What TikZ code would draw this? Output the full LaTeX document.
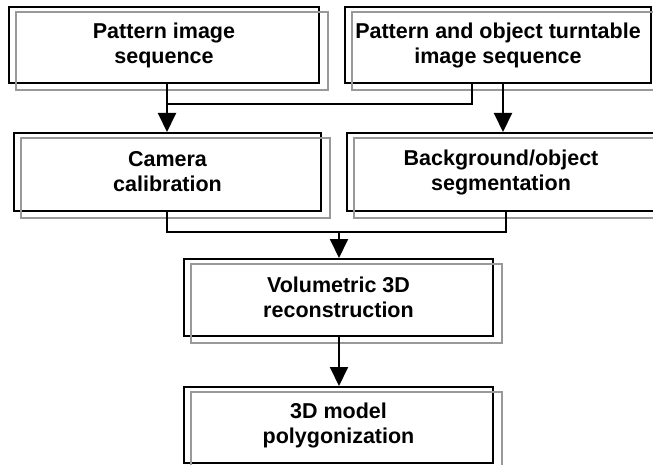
\documentclass[tikz,border=0pt]{standalone}
\usepackage{fontspec}
\setmainfont{Liberation Sans}
\usetikzlibrary{arrows.meta}
\begin{document}
\begin{tikzpicture}[x=1pt,y=-1pt,
  box/.style={draw=black,line width=2pt,fill=none,inner sep=0pt,align=center,
    font=\fontsize{21.5}{25}\selectfont\bfseries},
  shadowbox/.style={draw=black!40,line width=2pt},
  conn/.style={draw=black,line width=2pt},
  arr/.style={conn,-{Triangle[width=18pt,length=19pt]}}]
\useasboundingbox (0,0) rectangle (653,465);
\clip (0,0) rectangle (653,465);
% black boxes (nodes)
\node[box,minimum width=310pt,minimum height=76pt] (b1) at (164,45) {Pattern image\\sequence};
\node[box,minimum width=306pt,minimum height=76pt] (b2) at (498,45) {Pattern and object turntable\\image sequence};
\node[box,minimum width=307pt,minimum height=78pt] (b3) at (167.5,172) {Camera\\calibration};
\node[box,minimum width=308pt,minimum height=78pt] (b4) at (501,172) {Background/object\\segmentation};
\node[box,minimum width=309pt,minimum height=77pt] (b5) at (338.5,297.5) {Volumetric 3D\\reconstruction};
\node[box,minimum width=309pt,minimum height=76pt] (b6) at (338.5,425) {3D model\\polygonization};
% gray offset outlines
\foreach \b in {b1,b2,b3,b4,b5,b6}{
  \draw[shadowbox] ([shift={(8,6)}]\b.south west) rectangle ([shift={(8,6)}]\b.north east);
}
% connector helper coordinates
\coordinate (xa) at (167,0);
\coordinate (xb) at (472,0);
\coordinate (xc) at (503,0);
\coordinate (xd) at (506,0);
\coordinate (xe) at (339,0);
\coordinate (m1) at (167,104);
\coordinate (m2) at (167,232);
% connectors
\draw[arr] (b1.south -| xa) -- (b3.north -| xa);
\draw[conn] (b2.south -| xb) |- (m1);
\draw[arr] (b2.south -| xc) -- (b4.north -| xc);
\draw[conn] (b3.south -| m2) -- (m2) -| (b4.south -| xd);
\draw[arr] (m2 -| xe) -- (b5.north -| xe);
\draw[arr] (b5.south -| xe) -- (b6.north -| xe);
\end{tikzpicture}
\end{document}
